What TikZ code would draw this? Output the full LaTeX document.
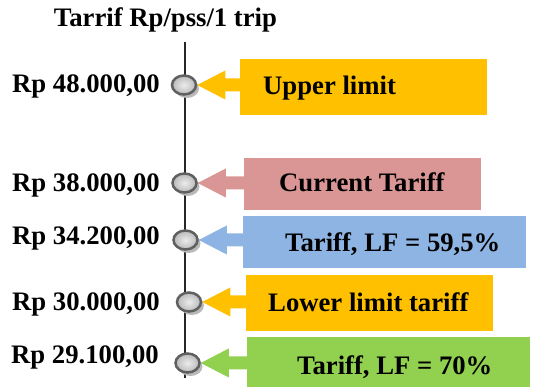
\documentclass[tikz,border=0pt]{standalone}
\usepackage{fontspec}
\setmainfont{Liberation Serif}
\usetikzlibrary{shapes.geometric,shadows,calc}
\definecolor{tagorange}{RGB}{255,192,0}
\definecolor{tagpink}{RGB}{218,150,148}
\definecolor{tagblue}{RGB}{141,180,226}
\definecolor{taggreen}{RGB}{146,208,80}
\tikzset{every node/.style={font=\fontsize{26.7}{30}\selectfont\bfseries,inner sep=0pt},
knob/.style={ellipse,minimum width=24pt,minimum height=19pt,draw=gray!75!black,line width=2.5pt,inner color=gray!15,outer color=gray!55,drop shadow={shadow xshift=3pt,shadow yshift=-3.5pt,fill=gray!55,opacity=1}},
tagbox/.style={fill=#1,anchor=north west}}
\newcommand{\pointer}[3]{\fill[#3] (#1.east) -- ++(28,-14.5) -- ++(0,8) -- ($(#2.west |- #1.east)+(1,-6.5)$) -- ++(0,13) -- ($(#1.east)+(28,6.5)$) -- ++(0,8) -- cycle;}
\begin{document}
\begin{tikzpicture}[x=1pt,y=-1pt]
\useasboundingbox (0,0) rectangle (533,387);
\node[anchor=base] (title) at (165.5,27) {Tarrif Rp/pss/1 trip};
\coordinate (axtop) at (184.5,42);
\coordinate (axbot) at (184.5,378);
\draw[line width=2pt,black!85] (axtop)--(axbot);
% marks on the axis
\node[knob] (c1) at (184,85) {};
\node[knob] (c2) at (184.5,183) {};
\node[knob] (c3) at (185.5,240) {};
\node[knob] (c4) at (189,302) {};
\node[knob] (c5) at (187.5,363) {};
\node[anchor=base east] (v1) at (160,93) {Rp 48.000,00};
\node[anchor=base east] (v2) at (160,192) {Rp 38.000,00};
\node[anchor=base east] (v3) at (160,245) {Rp 34.200,00};
\node[anchor=base east] (v4) at (160,311) {Rp 30.000,00};
\node[anchor=base east] (v5) at (159,363) {Rp 29.100,00};
% boxes
\node[tagbox=tagorange,minimum width=247pt,minimum height=56pt] (upbox) at (240,59) {};
\node[tagbox=tagpink,minimum width=237pt,minimum height=52pt] (curbox) at (244,158) {};
\node[tagbox=tagblue,minimum width=283pt,minimum height=52pt] (lfabox) at (243,216) {};
\node[tagbox=tagorange,minimum width=247pt,minimum height=56pt] (lowbox) at (246,275) {};
\node[tagbox=taggreen,minimum width=283pt,minimum height=50pt] (lfbbox) at (247,337) {};
\pointer{c1}{upbox}{tagorange}
\pointer{c2}{curbox}{tagpink}
\pointer{c3}{lfabox}{tagblue}
\pointer{c4}{lowbox}{tagorange}
\pointer{c5}{lfbbox}{taggreen}
\node[anchor=base west] (t1) at (263,95) {Upper limit};
\node[anchor=base west] (t2) at (279,192) {Current Tariff};
\node[anchor=base west] (t3) at (285,252) {Tariff, LF = 59,5\%};
\node[anchor=base west] (t4) at (268,312) {Lower limit tariff};
\node[anchor=base west] (t5) at (297,374) {Tariff, LF = 70\%};
\end{tikzpicture}
\end{document}
